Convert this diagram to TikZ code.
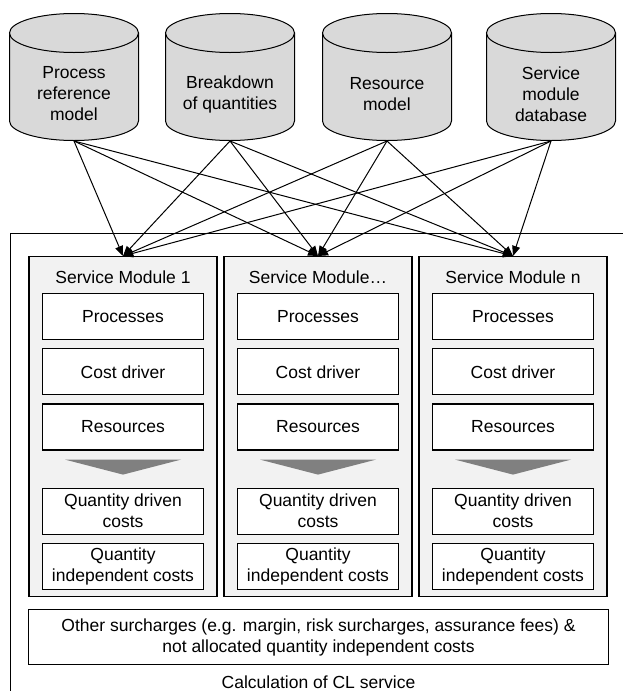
\documentclass[tikz,border=0pt]{standalone}
\usepackage{fontspec}
\setmainfont{Liberation Sans}
\usepackage{tikz}
\usetikzlibrary{positioning,arrows.meta,calc}
\definecolor{dbgray}{RGB}{217,217,217}
\definecolor{modgray}{RGB}{242,242,242}
\definecolor{arrgray}{RGB}{128,128,128}
\tikzset{
  dbshape/.style={draw, line width=1pt, fill=dbgray},
  dbtext/.style={align=center, inner sep=0pt},
  module/.style={draw, line width=1.2pt, fill=modgray, minimum width=188pt, minimum height=340pt},
  item/.style={draw, line width=1.2pt, fill=white, minimum width=161pt, minimum height=46pt, align=center, inner sep=0pt},
  feed/.style={-{Triangle[length=10pt,width=8pt]}, line width=1pt},
}

\begin{document}
\begin{tikzpicture}[x=1pt, y=-1pt, font=\fontsize{17.5}{21}\selectfont]
\useasboundingbox (0,0) rectangle (622,691);

% --- outer frame (runs off the page to the right and bottom) ---
\node (frame) [draw, line width=1.2pt, minimum width=640pt, minimum height=480pt, anchor=north west] at (10,233) {};

% --- data sources (cylinders) ---
\foreach \i/\x/\t in {1/74/{Process\\reference\\model}, 2/230/{Breakdown\\of quantities}, 3/387/{Resource\\model}, 4/551/{Service\\module\\database}} {
  \filldraw[dbshape] (\x-64.5,33) -- (\x-64.5,121)
    arc[start angle=180, end angle=0, x radius=64.5, y radius=19.5] -- (\x+64.5,33) -- cycle;
  \filldraw[dbshape] (\x,33) ellipse[x radius=64.5, y radius=19.5];
  \node (db\i) [dbtext] at (\x,94) {\t};
  \coordinate (dbb\i) at (\x,141); % bottom of the cylinder
}

% --- service modules ---
\foreach \i/\x/\t in {1/123/Service Module 1, 2/318/Service Module…, 3/513/Service Module n} {
  \node (m\i) [module, anchor=north] at (\x,256) {};
  \node (t\i) at ($(m\i.north)+(0,21)$) {\t};
  \node (p\i) [item, below=37pt of m\i.north] {Processes};
  \node (c\i) [item, below=8pt of p\i] {Cost driver};
  \node (r\i) [item, below=8pt of c\i] {Resources};
  \fill[arrgray] ($(r\i.south)+(-58,9)$) -- ($(r\i.south)+(58,9)$) -- ($(r\i.south)+(0,24)$) -- cycle;
  \node (q\i) [item, below=37pt of r\i] {Quantity driven\\costs};
  \node (u\i) [item, below=8pt of q\i] {Quantity\\independent costs};
}

% --- surcharges and caption ---
\node (sur) [item, minimum width=580pt, minimum height=55pt, anchor=north] at (318.5,609) {Other surcharges (e.g. margin, risk surcharges, assurance fees) \&\\not allocated quantity independent costs};
\node (cap) at (318.5,682) {Calculation of CL service};

% --- every source feeds every module ---
\foreach \s in {1,...,4} {
  \foreach \m in {1,2,3} {
    \draw[feed] (dbb\s) -- (m\m.north);
  }
}

\end{tikzpicture}
\end{document}
